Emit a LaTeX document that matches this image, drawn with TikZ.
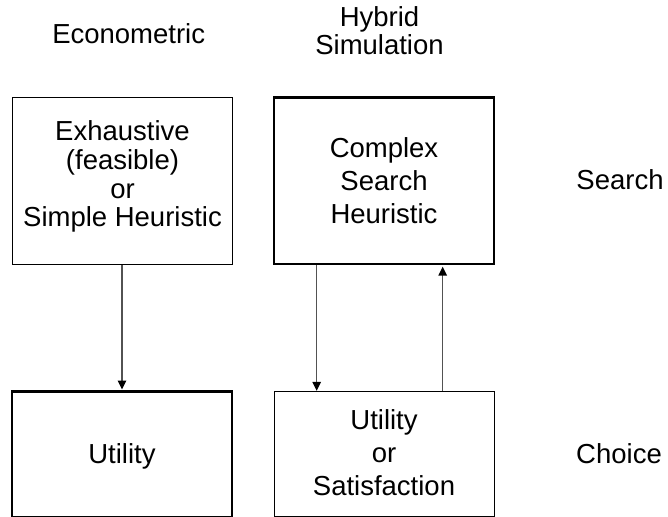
\documentclass[tikz,border=0pt]{standalone}
\usepackage{fontspec}
\setmainfont{Liberation Sans}
\usetikzlibrary{arrows.meta}
\begin{document}
\begin{tikzpicture}[x=1pt,y=-1pt,
  thinbox/.style={draw=black, line width=1pt, inner sep=0pt},
  thickbox/.style={draw=black, line width=2.6pt, inner sep=0pt},
  txt/.style={font=\fontsize{27.5}{28.7}\selectfont, align=center, inner sep=0pt, anchor=base},
  txtwide/.style={txt, font=\fontsize{27.5}{32.7}\selectfont},
  link/.style={draw=black!68, line width=1.4pt, -{Triangle[length=9pt,width=8.5pt,black]}}]
\useasboundingbox (0,0) rectangle (668,516);
\clip (0,0) rectangle (668,516);

% column and row headings (anchored at the last line's baseline)
\node[txt] (hecon) at (128.7,43.3) {Econometric};
\node[txt] (hhyb) at (379.5,55) {Hybrid\\Simulation};
\node[txt] (hsearch) at (620,189.3) {Search};
\node[txt] (hchoice) at (619,463.3) {Choice};

% boxes
\node[thinbox, minimum width=220pt, minimum height=167.3pt] (exh) at (122,181.3) {};
\node[thickbox, minimum width=220pt, minimum height=166.5pt] (cs) at (384,180.8) {};
\node[thickbox, minimum width=220pt, minimum height=125.3pt] (util) at (122,454.3) {};
\node[thinbox, minimum width=220pt, minimum height=125.3pt] (sat) at (384,454.3) {};

% box texts
\node[txt] (texh) at (122.5,226.7) {Exhaustive\\(feasible)\\or\\Simple Heuristic};
\node[txtwide] (tcs) at (384,223) {Complex\\Search\\Heuristic};
\node[txt] (tutil) at (122,463.3) {Utility};
\node[txtwide] (tsat) at (384,495) {Utility\\or\\Satisfaction};

% connectors
\draw[link, shorten >=0.8pt] (exh.south) -- (util.north);
\draw[link, shorten >=0.3pt] ([xshift=-67.3pt]cs.south) -- ([xshift=-67.3pt]sat.north);
\draw[link, shorten >=1.3pt] ([xshift=58.7pt]sat.north) -- ([xshift=58.7pt]cs.south);
\end{tikzpicture}
\end{document}
